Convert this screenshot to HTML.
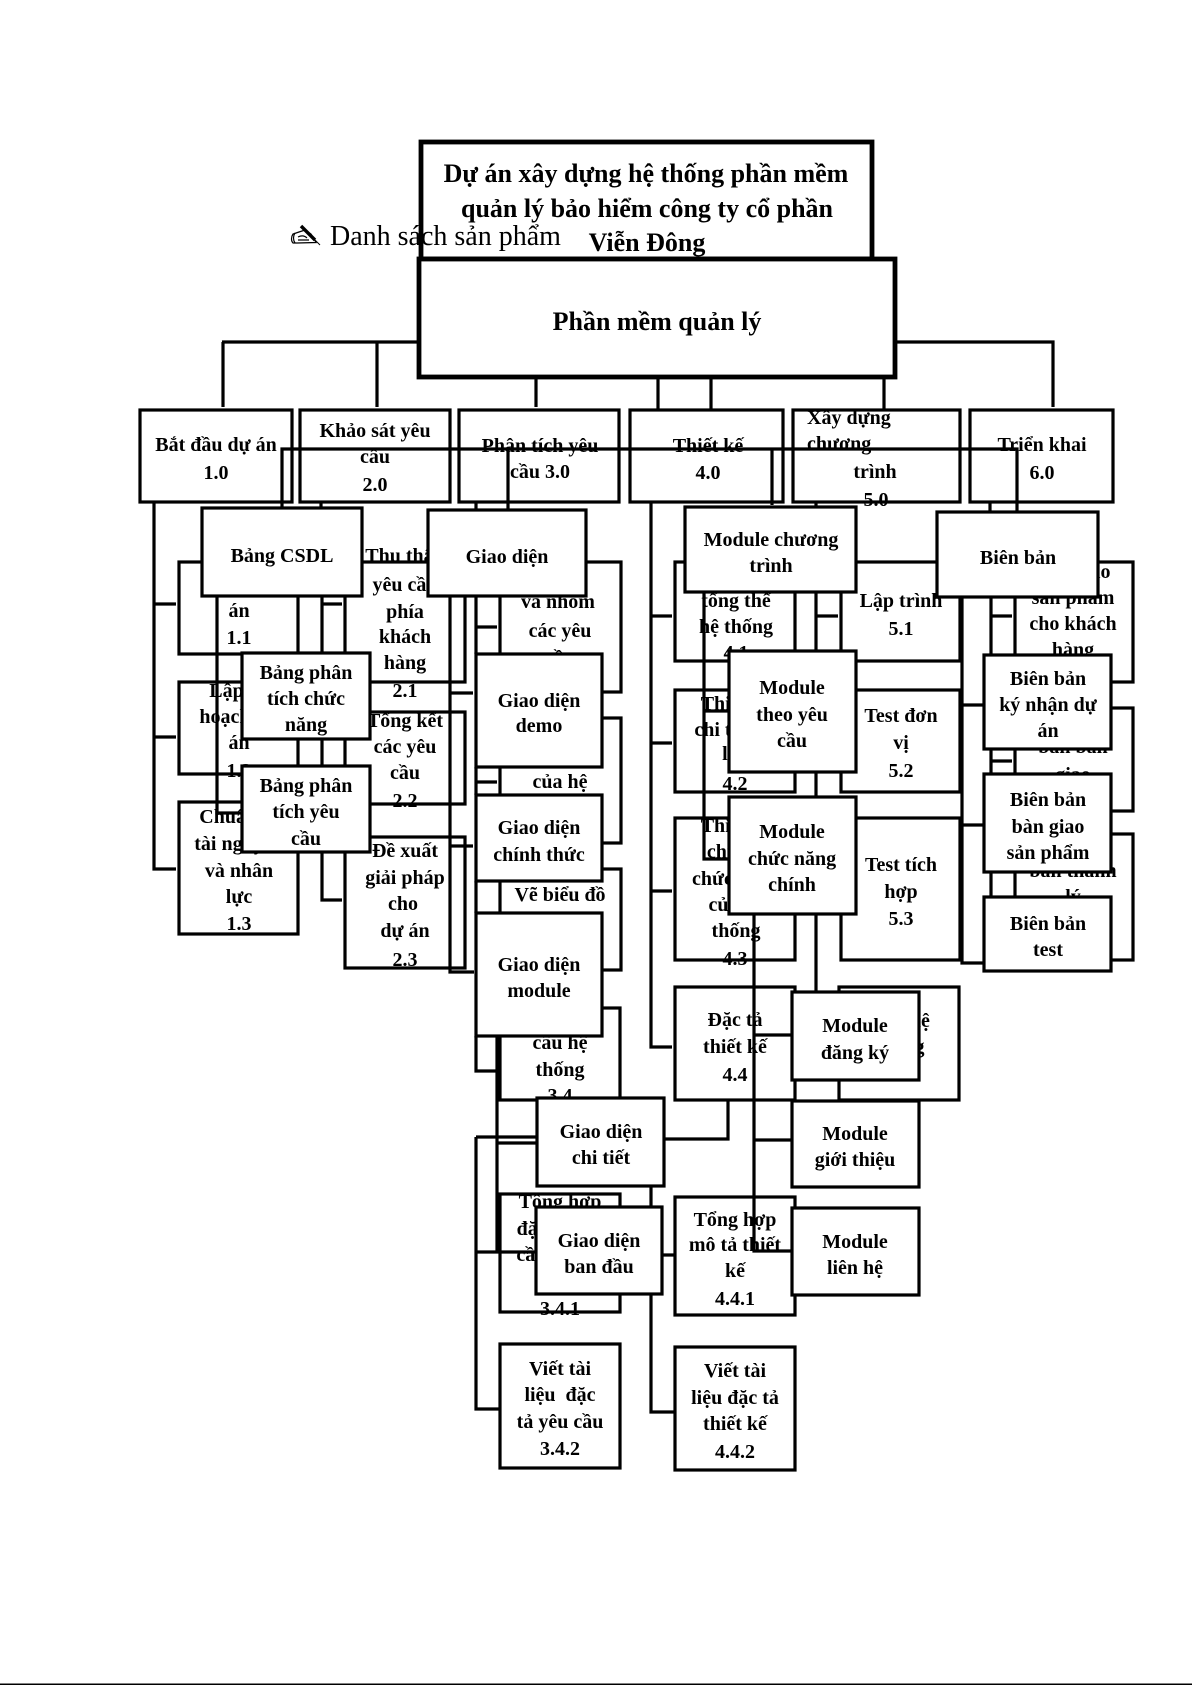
<!DOCTYPE html>
<html><head><meta charset="utf-8"><style>
html,body{margin:0;padding:0;background:#fff;width:1192px;height:1685px;overflow:hidden}
svg{display:block}
rect{fill:#fff;stroke:#000;stroke-width:3.2}
rect.k{stroke-width:4.8}
path{fill:none;stroke:#000;stroke-width:3.2}
text{font-family:"Liberation Serif","Noto Serif CJK SC",serif;font-weight:bold;font-size:20px;text-anchor:middle;fill:#000}
</style></head><body>
<svg width="1192" height="1685" viewBox="0 0 1192 1685" xmlns="http://www.w3.org/2000/svg">
<rect width="1192" height="1685" style="fill:#fff;stroke:none"/>
<rect class="k" x="421" y="142" width="451" height="117"/>
<text x="646" y="182" style="font-size:26px">Dự án xây dựng hệ thống phần mềm</text>
<text x="647" y="217" style="font-size:26px">quản lý bảo hiểm công ty cổ phần</text>
<text x="647" y="251" style="font-size:26px">Viễn Đông</text>
<path style="stroke-width:1.2" d="M293 234C291 237 291 241 293 243L297 243L316 242.5L311 234L305 230L299 232Z"/>
<path style="stroke-width:1.2" d="M295 233C293 236 293 240 295 243M298 237C302 235 305 236 307 238M298 240L309 240"/>
<path style="stroke-width:3.4" d="M301 226L315 240"/>
<path style="stroke-width:1" d="M315 240L320 245"/>
<text x="330" y="245" style="font-weight:normal;font-size:28px;text-anchor:start">Danh sách sản phẩm</text>
<rect class="k" x="419" y="259" width="476" height="118"/>
<text x="657" y="330" style="font-size:26px">Phần mềm quản lý</text>

<path d="M222 342H419M223 342V407M377 342V407M536 377V407M658 377V449M711 377V410M884 377V410M895 342H1053V407"/>

<!-- level 1 -->
<rect x="140" y="410" width="152" height="92"/><rect x="300" y="410" width="150" height="92"/><rect x="459" y="410" width="160" height="92"/>
<rect x="630" y="410" width="153" height="92"/><rect x="793" y="410" width="167" height="92"/><rect x="970" y="410" width="143" height="92"/>
<text x="216" y="451">Bắt đầu dự án</text><text x="216" y="479">1.0</text>
<text x="375" y="437">Khảo sát yêu</text><text x="375" y="463">cầu</text><text x="375" y="491">2.0</text>
<text x="540" y="452">Phân tích yêu</text><text x="540" y="478">cầu 3.0</text>
<text x="708" y="452">Thiết kế</text><text x="708" y="479">4.0</text>
<text x="807" y="424" style="text-anchor:start">Xây dựng</text><text x="807" y="450" style="text-anchor:start">chương</text><text x="875" y="478">trình</text><text x="876" y="506">5.0</text>
<text x="1042" y="451">Triển khai</text><text x="1042" y="479">6.0</text>

<!-- base boxes -->
<rect x="179" y="562" width="119" height="92"/><rect x="179" y="682" width="119" height="92"/><rect x="179" y="802" width="119" height="132"/>
<rect x="345" y="562" width="120" height="120"/><rect x="345" y="712" width="120" height="92"/><rect x="345" y="837" width="120" height="131"/>
<rect x="500" y="562" width="121" height="130"/><rect x="500" y="718" width="121" height="125"/><rect x="500" y="869" width="121" height="101"/>
<rect x="500" y="1008" width="120" height="92"/><rect x="500" y="1194" width="120" height="118"/><rect x="500" y="1344" width="120" height="124"/>
<rect x="675" y="562" width="120" height="99"/><rect x="675" y="690" width="120" height="102"/><rect x="675" y="818" width="120" height="142"/>
<rect x="675" y="987" width="120" height="113"/><rect x="675" y="1197" width="120" height="118"/><rect x="675" y="1347" width="120" height="123"/>
<rect x="841" y="562" width="119" height="99"/><rect x="841" y="690" width="119" height="102"/><rect x="841" y="818" width="119" height="142"/><rect x="839" y="987" width="120" height="113"/>
<rect x="1015" y="562" width="118" height="120"/><rect x="1015" y="708" width="118" height="103"/><rect x="1015" y="834" width="118" height="126"/>

<text x="239" y="617">án</text><text x="239" y="644">1.1</text>
<text x="239" y="697">Lập kế</text><text x="239" y="723">hoạch dự</text><text x="239" y="749">án</text><text x="239" y="777">1.2</text>
<text x="239" y="823">Chuẩn bị</text><text x="239" y="850">tài nguyên</text><text x="239" y="877">và nhân</text><text x="239" y="903">lực</text><text x="239" y="930">1.3</text>
<text x="405" y="562">Thu thập</text><text x="405" y="591">yêu cầu</text><text x="405" y="618">phía</text><text x="405" y="643">khách</text><text x="405" y="669">hàng</text><text x="405" y="697">2.1</text>
<text x="405" y="727">Tổng kết</text><text x="405" y="753">các yêu</text><text x="405" y="779">cầu</text><text x="405" y="807">2.2</text>
<text x="405" y="857">Đề xuất</text><text x="405" y="884">giải pháp</text><text x="403" y="910">cho</text><text x="405" y="937">dự án</text><text x="405" y="966">2.3</text>
<text x="558" y="608">và nhóm</text><text x="560" y="637">các yêu</text><text x="560" y="664">cầu</text>
<text x="560" y="788">của hệ</text><text x="560" y="901">Vẽ biểu đồ</text>
<text x="560" y="1049">cầu hệ</text><text x="560" y="1076">thống</text><text x="560" y="1102">3.4</text>
<text x="560" y="1208">Tổng hợp</text><text x="560" y="1235">đặc tả yêu</text><text x="560" y="1261">cầu chung</text><text x="560" y="1315">3.4.1</text>
<text x="560" y="1375">Viết tài</text><text x="560" y="1401">liệu&#160; đặc</text><text x="560" y="1428">tả yêu cầu</text><text x="560" y="1455">3.4.2</text>
<text x="736" y="607">tổng thể</text><text x="736" y="633">hệ thống</text><text x="736" y="659">4.1</text>
<text x="736" y="710">Thiết kế</text><text x="736" y="736">chi tiết hệ</text><text x="736" y="760">lớp</text><text x="735" y="790">4.2</text>
<text x="736" y="832">Thiết kế</text><text x="736" y="858">chi tiết</text><text x="736" y="885">chức năng</text><text x="736" y="911">của hệ</text><text x="736" y="937">thống</text><text x="735" y="965">4.3</text>
<text x="735" y="1026">Đặc tả</text><text x="735" y="1053">thiết kế</text><text x="735" y="1081">4.4</text>
<text x="735" y="1226">Tổng hợp</text><text x="735" y="1251">mô tả thiết</text><text x="735" y="1277">kế</text><text x="735" y="1305">4.4.1</text>
<text x="735" y="1377">Viết tài</text><text x="735" y="1404">liệu đặc tả</text><text x="735" y="1430">thiết kế</text><text x="735" y="1458">4.4.2</text>
<text x="901" y="607">Lập trình</text><text x="901" y="635">5.1</text>
<text x="901" y="722">Test đơn</text><text x="901" y="749">vị</text><text x="901" y="777">5.2</text>
<text x="901" y="871">Test tích</text><text x="901" y="898">hợp</text><text x="901" y="925">5.3</text>
<text x="900" y="1027">Test hệ</text><text x="900" y="1053">thống</text>
<text x="1073" y="578">Bàn giao</text><text x="1073" y="604">sản phẩm</text><text x="1073" y="630">cho khách</text><text x="1073" y="656">hàng</text>
<text x="1073" y="753">bản bàn</text><text x="1073" y="781">giao</text>
<text x="1073" y="877">bản thanh</text><text x="1073" y="903">lý</text>

<!-- connectors -->
<path d="M282 507V449H1017V511M508 449V510M772 449V505"/>
<path d="M321 502V508M476 502V510M816 502V507M990 502V512"/>
<path d="M154 502V869H176M154 604H176M154 737H176"/>
<path d="M217 596V813H243"/>
<path d="M322 596V900H342M322 604H342"/>
<path d="M450 596V972H474M450 693H473M450 846H473"/>
<path d="M476 596V654M476 627H497M476 767V795M476 782H497M476 881V913M476 1036V1071H497"/>
<path d="M497 1036V1252M476 1137H537M497 1143H537M476 1252H536M476 1137V1409H500"/>
<path d="M651 502V1047H672M651 616H672M651 743H672M651 891H672"/>
<path d="M704 592V859H728M704 711H728"/>
<path d="M816 592V992M816 616H838"/>
<path d="M754 914V1251H791M754 1035H791M754 1140H791"/>
<path d="M962 597V963H985M962 705H985M962 825H985"/>
<path d="M991 597V897M991 616H1012M991 761H1012"/>
<path d="M664 1139H728V1100M651 1186V1412H675M662 1255H675"/>

<!-- overlay boxes -->
<rect x="202" y="508" width="160" height="88"/><text x="282" y="562">Bảng CSDL</text>
<rect x="428" y="510" width="158" height="86"/><text x="507" y="563">Giao diện</text>
<rect x="685" y="507" width="171" height="85"/><text x="771" y="546">Module chương</text><text x="771" y="572">trình</text>
<rect x="937" y="512" width="161" height="85"/><text x="1018" y="564">Biên bản</text>
<rect x="242" y="653" width="128" height="86"/><text x="306" y="679">Bảng phân</text><text x="306" y="705">tích chức</text><text x="306" y="731">năng</text>
<rect x="242" y="766" width="128" height="86"/><text x="306" y="792">Bảng phân</text><text x="306" y="818">tích yêu</text><text x="306" y="845">cầu</text>
<rect x="476" y="654" width="126" height="113"/><text x="539" y="707">Giao diện</text><text x="539" y="732">demo</text>
<rect x="476" y="795" width="126" height="86"/><text x="539" y="834">Giao diện</text><text x="539" y="861">chính thức</text>
<rect x="476" y="913" width="126" height="123"/><text x="539" y="971">Giao diện</text><text x="539" y="997">module</text>
<rect x="537" y="1098" width="127" height="88"/><text x="601" y="1138">Giao diện</text><text x="601" y="1164">chi tiết</text>
<rect x="536" y="1207" width="126" height="87"/><text x="599" y="1247">Giao diện</text><text x="599" y="1273">ban đầu</text>
<rect x="729" y="651" width="127" height="121"/><text x="792" y="694">Module</text><text x="792" y="721">theo yêu</text><text x="792" y="747">cầu</text>
<rect x="729" y="797" width="127" height="117"/><text x="792" y="838">Module</text><text x="792" y="865">chức năng</text><text x="792" y="891">chính</text>
<rect x="792" y="992" width="127" height="88"/><text x="855" y="1032">Module</text><text x="855" y="1059">đăng ký</text>
<rect x="792" y="1101" width="127" height="86"/><text x="855" y="1140">Module</text><text x="855" y="1166">giới thiệu</text>
<rect x="792" y="1208" width="127" height="87"/><text x="855" y="1248">Module</text><text x="855" y="1274">liên hệ</text>
<rect x="984" y="655" width="127" height="94"/><text x="1048" y="685">Biên bản</text><text x="1048" y="711">ký nhận dự</text><text x="1048" y="737">án</text>
<rect x="984" y="774" width="127" height="98"/><text x="1048" y="806">Biên bản</text><text x="1048" y="833">bàn giao</text><text x="1048" y="859">sản phẩm</text>
<rect x="984" y="897" width="127" height="74"/><text x="1048" y="930">Biên bản</text><text x="1048" y="956">test</text>

<rect x="0" y="1683.5" width="1192" height="1.5" style="fill:#000;stroke:none"/>
</svg>
</body></html>
